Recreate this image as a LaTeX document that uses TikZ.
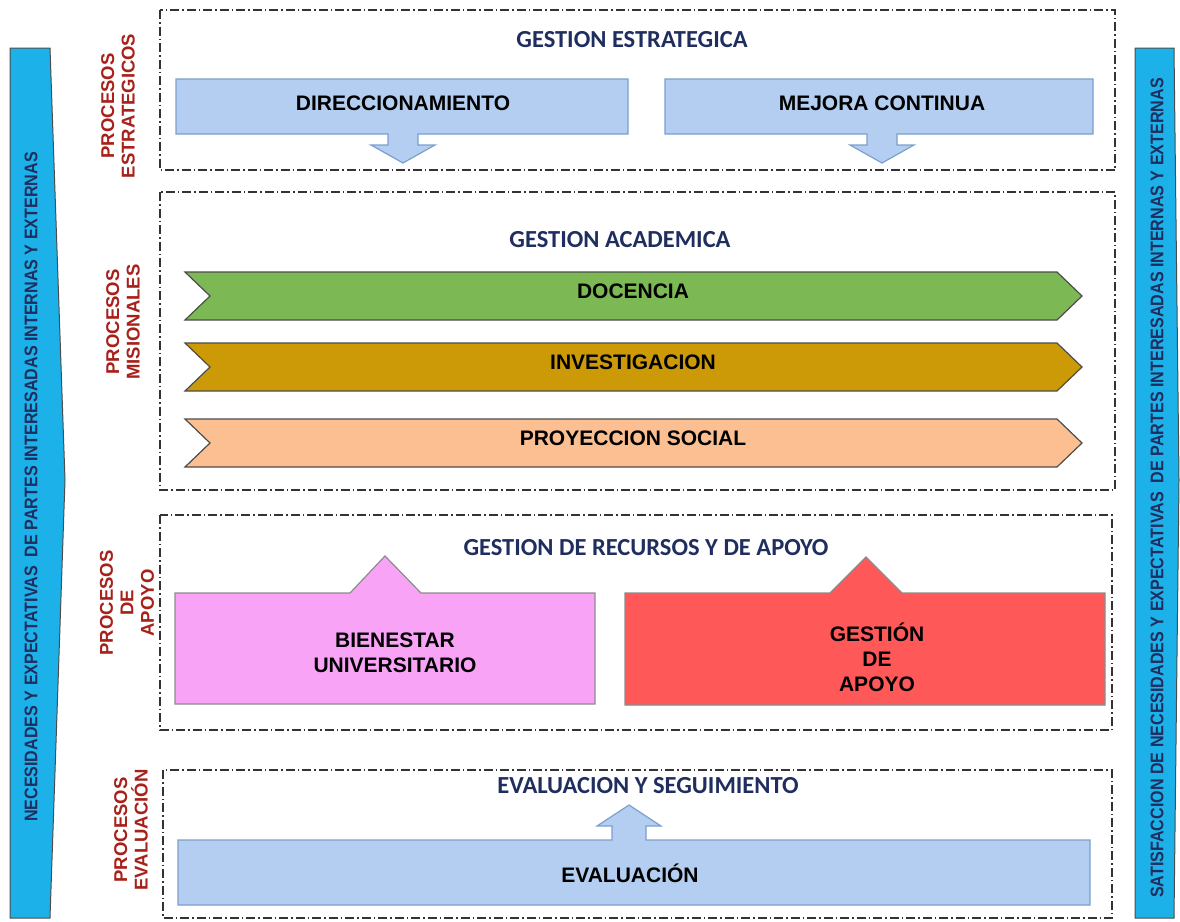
\documentclass[tikz,border=0pt]{standalone}
\usepackage{fontspec}
\setmainfont{Liberation Sans}
\newfontfamily\titlefont{Carlito}
\newfontfamily\bandfont[FakeStretch=0.88]{Liberation Sans}
\definecolor{bandblue}{HTML}{1DB1E9}
\definecolor{navy}{HTML}{1F2E5E}
\definecolor{darkred}{HTML}{A8201A}
\definecolor{boxblue}{HTML}{B3CEF0}
\definecolor{boxedge}{HTML}{7C9FCC}
\definecolor{verde}{HTML}{7CB955}
\definecolor{oro}{HTML}{CC9A06}
\definecolor{durazno}{HTML}{FBBF92}
\definecolor{rosa}{HTML}{F9A3F7}
\definecolor{rojo}{HTML}{FF5858}

\begin{document}
\begin{tikzpicture}[x=1pt,y=-1pt,
    zone/.style={draw=black!80,line width=1.4pt,dash pattern=on 9pt off 3pt on 1.5pt off 3pt},
    band/.style={draw=black!70,line width=1pt,fill=bandblue},
    bluebox/.style={draw=boxedge,line width=1.2pt,fill=boxblue},
    chev/.style={draw=black!70,line width=1.2pt,line join=miter},
    title/.style={font=\titlefont\bfseries\fontsize{24.5}{26}\selectfont,text=navy},
    lbl/.style={font=\bfseries\fontsize{21}{25}\selectfont,align=center},
    side/.style={font=\bfseries\fontsize{18.5}{20.5}\selectfont,text=darkred,rotate=90,align=center},
    bandtxt/.style={font=\bandfont\bfseries\fontsize{18.3}{18}\selectfont,text=navy,rotate=90}]

    \useasboundingbox (0,0) rectangle (1180,921);

    % side bands
    \draw[band] (10,48) -- (50,48) -- (65,480) -- (50,918) -- (10,918) -- cycle;
    \node[bandtxt] (necesidades) at (31,487) {NECESIDADES Y EXPECTATIVAS\ \ DE PARTES INTERESADAS INTERNAS Y EXTERNAS};
    \draw[band] (1135,48) -- (1174,48) -- (1179,480) -- (1174,918) -- (1135,918) -- cycle;
    \node[bandtxt] (satisfaccion) at (1157,488) {SATISFACCION DE NECESIDADES Y EXPECTATIVAS\ \ DE PARTES INTERESADAS INTERNAS Y EXTERNAS};

    % dash-dot zones
    \draw[zone] (160,10) rectangle (1115,170);
    \draw[zone] (160,192) rectangle (1115,490);
    \draw[zone] (160,515) rectangle (1112,730);
    \draw[zone] (163,770) rectangle (1112,918);

    \node[side] (pEstrat) at (118,106) {PROCESOS\\ESTRATEGICOS};
    \node[side] (pMision) at (123,322) {PROCESOS\\MISIONALES};
    \node[side] (pApoyo) at (127,603) {PROCESOS\\DE\\APOYO};
    \node[side] (pEval) at (131,830) {PROCESOS\\EVALUACIÓN};

    \node[title] (tEstrat) at (632,40) {GESTION ESTRATEGICA};
    \node[title] (tAcad) at (620,240) {GESTION ACADEMICA};
    \node[title] (tApoyo) at (646,548) {GESTION DE RECURSOS Y DE APOYO};
    \node[title] (tEval) at (648,786) {EVALUACION Y SEGUIMIENTO};

    % strategic boxes with arrow down
    \foreach \l/\r/\m/\txt/\nm in {176/628/403/DIRECCIONAMIENTO/dir, 665/1093/882/MEJORA CONTINUA/mej}{
        \draw[bluebox] (\l,79) -- (\r,79) -- (\r,134) -- (\m+15,134) -- ++(0,11) -- ++(17,0)
            -- (\m,163) -- (\m-32,145) -- ++(17,0) -- (\m-15,134) -- (\l,134) -- cycle;
        \node[lbl] (\nm) at (\m,103) {\txt};
    }

    % missional chevrons
    \foreach \y/\col/\txt/\nm in {272/verde/DOCENCIA/doc, 343/oro/INVESTIGACION/inv, 419/durazno/PROYECCION SOCIAL/proy}{
        \draw[chev,fill=\col] (185,\y) -- (1057,\y) -- (1082,\y+24) -- (1057,\y+48) -- (185,\y+48) -- (210,\y+24) -- cycle;
        \node[lbl] (\nm) at (633,\y+19) {\txt};
    }

    % support boxes
    \draw[bluebox,draw=black!45,fill=rosa] (175,593) -- (350,593) -- (385,556) -- (421,593) -- (595,593)
        -- (595,704) -- (175,704) -- cycle;
    \node[lbl] (bienestar) at (395,653) {BIENESTAR\\UNIVERSITARIO};
    \draw[bluebox,draw=black!45,fill=rojo] (625,593) -- (830,593) -- (866,557) -- (902,593) -- (1105,593)
        -- (1105,705) -- (625,705) -- cycle;
    \node[lbl] (gapoyo) at (877,657) {GESTIÓN\\DE\\APOYO};

    % evaluation box with arrow up
    \draw[bluebox] (178,840) -- (612,840) -- (612,826) -- (597,826) -- (629,805) -- (661,826) -- (646,826)
        -- (646,840) -- (1090,840) -- (1090,905) -- (178,905) -- cycle;
    \node[lbl] (evaluacion) at (630,873) {EVALUACIÓN};
\end{tikzpicture}
\end{document}
